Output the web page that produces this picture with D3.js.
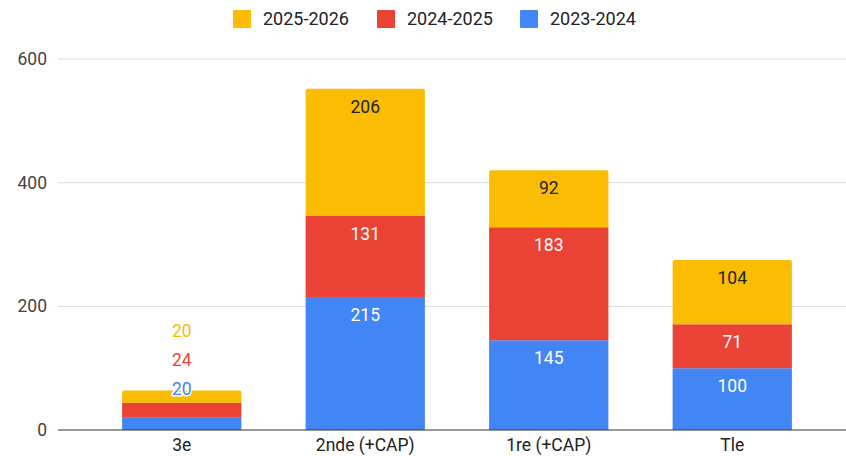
<!DOCTYPE html>
<html>
<head>
<meta charset="utf-8">
<script src="https://cdn.jsdelivr.net/npm/d3@7"></script>
<style>
  body { margin: 0; background: #fff; }
  text { font-family: Roboto, Arial, sans-serif; }
</style>
</head>
<body>
<div id="chart"></div>
<script>
const categories = ['3e', '2nde (+CAP)', '1re (+CAP)', 'Tle']
const seriesNames = ['2023-2024', '2024-2025', '2025-2026']
const values2023 = [20, 215, 145, 100]
const values2024 = [24, 131, 183, 71]
const values2025 = [20, 206, 92, 104]
const yTicks = [0, 200, 400, 600]
const legendOrder = ['2025-2026', '2024-2025', '2023-2024']

const colors = { '2023-2024': '#4285f4', '2024-2025': '#ea4335', '2025-2026': '#fbbc04' }
const labelColors = { '2023-2024': '#fff', '2024-2025': '#fff', '2025-2026': '#222' }

const width = 846
const height = 456

const svg = d3.select('#chart').append('svg')
  .attr('width', width)
  .attr('height', height)

const rows = categories.map((c, i) => ({
  cat: c,
  '2023-2024': values2023[i],
  '2024-2025': values2024[i],
  '2025-2026': values2025[i]
}))

const stacked = d3.stack().keys(seriesNames)(rows)

const x = d3.scaleBand().domain(categories).range([90, 824]).paddingInner(0.35).paddingOuter(0.175)
const y = d3.scaleLinear().domain([0, 600]).range([430, 59])

const totalOf = d => d['2023-2024'] + d['2024-2025'] + d['2025-2026']

// gridlines
svg.append('g')
  .selectAll('line')
  .data(yTicks.filter(d => d > 0))
  .enter()
  .append('line')
  .attr('x1', 58).attr('x2', width)
  .attr('y1', d => y(d)).attr('y2', d => y(d))
  .attr('stroke', '#d9d9d9')
  .attr('stroke-width', 1)

// y labels
svg.append('g')
  .selectAll('text')
  .data(yTicks)
  .enter()
  .append('text')
  .attr('x', 47)
  .attr('y', d => y(d))
  .attr('dy', '0.35em')
  .attr('text-anchor', 'end')
  .attr('font-size', 17.5)
  .attr('fill', '#444')
  .text(d => d)

// bars
stacked.forEach((layer, li) => {
  const isTop = li === stacked.length - 1
  svg.append('g')
    .selectAll('path')
    .data(layer)
    .enter()
    .append('path')
    .attr('fill', colors[layer.key])
    .attr('d', d => {
      const x0 = x(d.data.cat)
      const w = x.bandwidth()
      const y0 = y(d[0])
      const y1 = y(d[1])
      const r = isTop ? 2 : 0
      return `M${x0},${y0}V${y1 + r}Q${x0},${y1} ${x0 + r},${y1}H${x0 + w - r}Q${x0 + w},${y1} ${x0 + w},${y1 + r}V${y0}Z`
    })
})

// value labels
stacked.forEach((layer, li) => {
  svg.append('g')
    .selectAll('text')
    .data(layer)
    .enter()
    .append('text')
    .attr('x', d => x(d.data.cat) + x.bandwidth() / 2)
    .attr('y', d => {
      const total = totalOf(d.data)
      if (total < 100) {
        // small bar: labels stacked above it
        return y(total) - 2 - li * 29
      }
      return y(d[1]) + 18
    })
    .attr('dy', '0.35em')
    .attr('text-anchor', 'middle')
    .attr('font-size', 17.5)
    .attr('paint-order', 'stroke')
    .attr('stroke', d => totalOf(d.data) < 100 ? '#fff' : 'none')
    .attr('stroke-width', 3)
    .attr('fill', d => totalOf(d.data) < 100 ? colors[layer.key] : labelColors[layer.key])
    .text(d => d.data[layer.key])
})

// baseline
svg.append('line')
  .attr('x1', 58).attr('x2', width)
  .attr('y1', y(0)).attr('y2', y(0))
  .attr('stroke', '#333')
  .attr('stroke-width', 1)

// x labels
svg.append('g')
  .selectAll('text')
  .data(categories)
  .enter()
  .append('text')
  .attr('x', d => x(d) + x.bandwidth() / 2)
  .attr('y', 445)
  .attr('dy', '0.35em')
  .attr('text-anchor', 'middle')
  .attr('font-size', 17.5)
  .attr('fill', '#222')
  .text(d => d)

// legend
const legendX = [233, 377, 520]
const legend = svg.append('g')
legend.selectAll('g')
  .data(legendOrder)
  .enter()
  .append('g')
  .attr('transform', (d, i) => `translate(${legendX[i]},19)`)
  .each(function (d) {
    const g = d3.select(this)
    g.append('rect')
      .attr('x', 0).attr('y', -9)
      .attr('width', 18).attr('height', 18)
      .attr('rx', 1)
      .attr('fill', colors[d])
    g.append('text')
      .attr('x', 30)
      .attr('dy', '0.35em')
      .attr('font-size', 18)
      .attr('fill', '#222')
      .text(d)
  })
</script>
</body>
</html>
